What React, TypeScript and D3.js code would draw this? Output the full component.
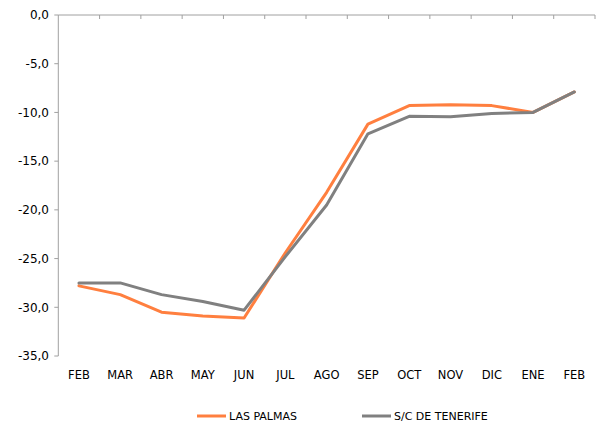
import React from "react";
import * as d3 from "d3";

const months = ["FEB", "MAR", "ABR", "MAY", "JUN", "JUL", "AGO", "SEP", "OCT", "NOV", "DIC", "ENE", "FEB "];
const lasPalmas = [-27.8, -28.7, -30.5, -30.9, -31.1, -24.4, -18.2, -11.2, -9.3, -9.2, -9.3, -10.0, -7.9];
const tenerife = [-27.5, -27.5, -28.7, -29.4, -30.3, -24.8, -19.5, -12.2, -10.4, -10.45, -10.1, -10.0, -7.9];
const yTicks = [0, -5, -10, -15, -20, -25, -30, -35];
const seriesNames = ["LAS PALMAS", "S/C DE TENERIFE"];
const colors = ["#FF7F3F", "#808080"];

const W = 600, H = 427;
const left = 58.3, right = 595, top = 15, bottom = 356;
const font = "'DejaVu Sans', Verdana, sans-serif";

export default function App() {
  const x = d3.scaleBand<string>().domain(months).range([left, right]);
  const y = d3.scaleLinear().domain([-35, 0]).range([bottom, top]);
  const line = d3
    .line<number>()
    .x((_, i) => (x(months[i]) as number) + x.bandwidth() / 2)
    .y((d) => y(d));
  const axisColor = "#A0A0A0";
  const series = [lasPalmas, tenerife];
  const legendX = [197, 362];
  return (
    <svg
      width={W}
      height={H}
      style={{ position: "fixed", left: 0, top: 0, background: "#fff" }}
      fontFamily={font}
    >
      <rect x={0} y={0} width={W} height={H} fill="#fff" />
      {/* y axis */}
      <line x1={left} x2={left} y1={top} y2={bottom} stroke={axisColor} strokeWidth={1} />
      {yTicks.map((t) => (
        <g key={t}>
          <line x1={left - 4} x2={left} y1={y(t)} y2={y(t)} stroke={axisColor} />
          <text x={49} y={y(t)} dy="0.36em" textAnchor="end" fontSize={12} fill="#000">
            {d3.format(".1f")(t).replace(".", ",").replace("−", "-")}
          </text>
        </g>
      ))}
      {/* x axis at 0 */}
      <line x1={left} x2={right} y1={y(0)} y2={y(0)} stroke={axisColor} />
      {months.map((m, i) =>
        i > 0 ? (
          <line
            key={"t" + i}
            x1={x(m) as number}
            x2={x(m) as number}
            y1={y(0)}
            y2={y(0) + 4}
            stroke={axisColor}
          />
        ) : null
      )}
      <line x1={right} x2={right} y1={y(0)} y2={y(0) + 4} stroke={axisColor} />
      {months.map((m) => (
        <text
          key={"l" + m}
          x={(x(m) as number) + x.bandwidth() / 2}
          y={379}
          textAnchor="middle"
          fontSize={11.5}
          fill="#000"
        >
          {m.trim()}
        </text>
      ))}
      {/* lines */}
      {series.map((s, i) => (
        <path
          key={"s" + i}
          d={line(s) || ""}
          fill="none"
          stroke={colors[i]}
          strokeWidth={3}
          strokeLinejoin="round"
          strokeLinecap="round"
        />
      ))}
      {/* legend */}
      {seriesNames.map((n, i) => (
        <g key={n}>
          <line
            x1={legendX[i]}
            x2={legendX[i] + 29}
            y1={416}
            y2={416}
            stroke={colors[i]}
            strokeWidth={3}
          />
          <text x={legendX[i] + 32} y={420} fontSize={11} fill="#000">
            {n}
          </text>
        </g>
      ))}
    </svg>
  );
}
